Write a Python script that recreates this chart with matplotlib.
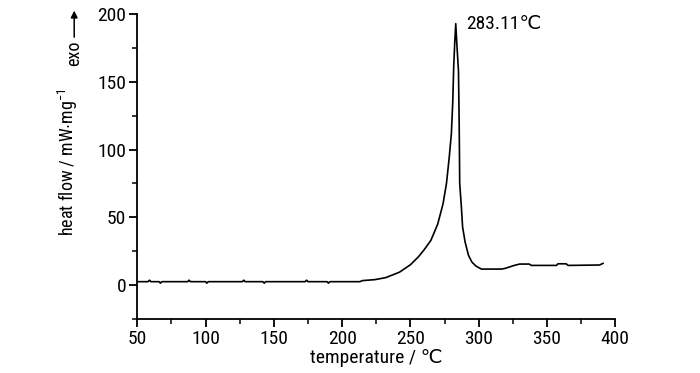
"""DSC curve: heat flow vs temperature."""

import matplotlib
matplotlib.use("Agg")
import matplotlib.pyplot as plt
from matplotlib import font_manager
from matplotlib.patches import FancyArrowPatch
from matplotlib.ticker import MultipleLocator

# prefer a narrow sans (the reference uses an Arial Narrow look)
_installed = {f.name for f in font_manager.fontManager.ttflist}
_narrow = [n for n in ("Liberation Sans Narrow", "Roboto Condensed",
                       "Open Sans Condensed", "DejaVu Sans Condensed")
           if n in _installed]
BASE = _narrow[0] if _narrow else "Liberation Sans"
SIZE = 14 if _narrow else 13
LABEL_SIZE = 13 if _narrow else 12

plt.rcParams["font.family"] = [BASE, "Liberation Sans", "DejaVu Sans"]
plt.rcParams["mathtext.fontset"] = "custom"
plt.rcParams["mathtext.rm"] = BASE
plt.rcParams["mathtext.it"] = BASE

# temperature (°C) and heat flow (mW/mg)
temperature = [50, 58, 59, 60, 66, 67, 68, 87, 88, 89, 100, 101, 102,
               127, 128, 129, 142, 143, 144, 173, 174, 175, 189, 190, 191,
               213, 215, 224, 232, 242, 250, 256, 260, 265, 270, 273.9,
               276.4, 278.5, 280, 281, 281.7, 282.5, 283.2, 284, 285.2,
               285.7, 286.1, 287.3, 288.2, 290, 292.5, 295, 298, 302, 317,
               320, 323, 326, 330, 337, 338.5, 357, 358, 364, 365.5, 388.5,
               391]
heat_flow = [2.5, 2.5, 3.6, 2.5, 2.5, 1.4, 2.5, 2.5, 3.6, 2.5, 2.5, 1.4, 2.5,
             2.5, 3.6, 2.5, 2.5, 1.4, 2.5, 2.5, 3.6, 2.5, 2.5, 1.4, 2.5,
             2.5, 3.3, 4, 5.5, 9.5, 15, 21, 26, 33, 45, 60,
             75, 95, 112, 135, 161, 180, 193, 178, 158,
             120, 75, 58, 43, 32, 22, 17, 14, 11.8, 11.8,
             12.5, 13.5, 14.5, 15.5, 15.5, 14.5, 14.5, 15.7, 15.7, 14.5, 14.8,
             16]
peak_label = "283.11℃"

fig = plt.figure(figsize=(7, 3.73), dpi=100)
ax = fig.add_axes([0.196, 0.145, 0.683, 0.817])

ax.plot(temperature, heat_flow, color="black", lw=1.2)

ax.set_xlim(50, 400)
ax.set_ylim(-25, 200)
ax.xaxis.set_major_locator(MultipleLocator(50))
ax.xaxis.set_minor_locator(MultipleLocator(25))
ax.yaxis.set_major_locator(MultipleLocator(50))
ax.yaxis.set_minor_locator(MultipleLocator(25))
for side in ("top", "right"):
    ax.spines[side].set_visible(False)
for side in ("left", "bottom"):
    ax.spines[side].set_linewidth(1.3)
ax.tick_params(which="major", direction="out", length=6, width=1.3,
               labelsize=SIZE, pad=2)
ax.tick_params(which="minor", direction="out", length=3.5, width=1.1)

ax.set_xlabel("temperature / ℃", fontsize=SIZE, labelpad=1)
ax.set_ylabel(r"heat flow / mW$\cdot$mg$^{-1}$", fontsize=LABEL_SIZE)
ax.yaxis.set_label_coords(-0.119, 0.516)

ax.text(283.11 + 8, 193, peak_label, fontsize=SIZE, va="center", ha="left")

# exo arrow next to the y label
fig.text(0.106, 0.857, "exo", rotation=90, fontsize=LABEL_SIZE,
         ha="center", va="center")
fig.add_artist(FancyArrowPatch(
    (0.106, 0.893), (0.106, 0.979), transform=fig.transFigure,
    arrowstyle="-|>", mutation_scale=10, color="black", lw=1.1))

fig.savefig("out.png", dpi=100)
